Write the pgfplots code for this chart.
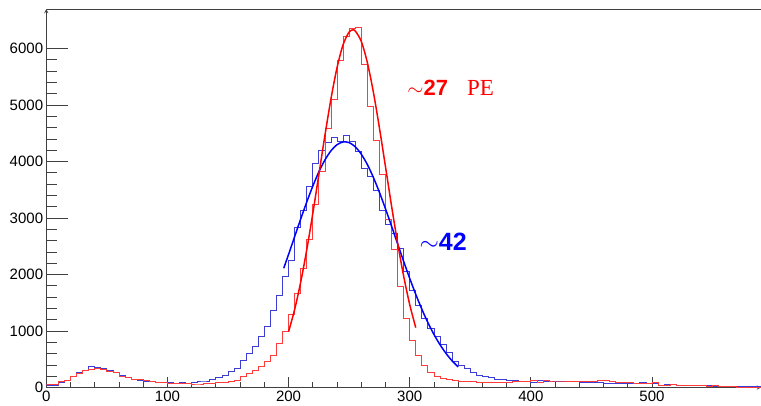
\documentclass[border=0pt]{standalone}
\usepackage{pgfplots}
\pgfplotsset{compat=1.18}
\usepackage{pgfplotstable}
\usepackage{fontspec}
\setmainfont{Liberation Sans}
\newfontfamily\serifpe{Liberation Serif}

\definecolor{hblue}{RGB}{60,60,215}
\definecolor{hred}{RGB}{255,60,60}
\definecolor{fblue}{RGB}{0,0,255}
\definecolor{fred}{RGB}{255,0,0}

\pgfplotstableread{
x b r
0 30 60
5 35 60
10 90 100
15 130 130
20 200 200
25 260 250
30 310 300
35 370 320
40 360 330
45 330 320
50 300 290
55 270 260
60 210 200
65 170 170
70 140 150
75 120 135
80 110 120
85 100 105
90 95 95
95 90 90
100 85 80
105 80 80
110 90 75
115 75 70
120 85 62
125 115 62
130 115 74
135 145 74
140 174 91
145 221 91
150 280 103
155 339 133
160 487 192
165 605 251
170 723 310
175 900 369
180 1077 457
185 1372 575
190 1637 782
195 1962 988
200 2257 1300
205 2829 1667
210 3142 2110
215 3554 2623
220 3968 3248
225 4204 3820
230 4333 4588
235 4428 5101
240 4351 5797
245 4469 6222
250 4351 6360
255 4174 6375
260 3880 5726
265 3731 4983
270 3483 4369
275 3142 3779
280 2894 2977
285 2729 2446
290 2464 1784
295 2050 1225
300 1726 841
305 1460 560
310 1225 400
315 1048 265
320 900 205
325 760 165
330 620 145
335 470 130
340 400 115
345 330 105
350 270 100
355 220 95
360 190 90
365 170 90
370 150 85
375 140 85
380 125 95
385 120 100
390 110 105
395 100 100
400 95 120
405 120 90
410 115 130
415 100 115
420 100 115
425 110 115
430 105 110
435 100 105
440 95 105
445 95 100
450 95 115
455 90 125
460 80 130
465 75 105
470 75 90
475 75 85
480 80 85
485 80 80
490 85 75
495 80 80
500 75 85
505 45 44
510 55 45
515 50 50
520 45 40
525 45 44
530 40 44
535 35 40
540 30 30
545 30 27
550 27 30
555 27 27
560 20 20
565 15 15
570 15 5
575 15 5
580 15 5
585 15 5
590 15 5
}\hist

\begin{document}
\begin{tikzpicture}
\pgfplotsset{common/.style={
  at={(0pt,0pt)}, anchor=south west, scale only axis,
  width=714.7pt, height=378.5pt,
  xmin=0, xmax=590, ymin=0, ymax=6700,
  axis line style={-, black!75, line width=0.9pt},
  tick style={black!75, line width=0.8pt},
  /pgf/number format/assume math mode=true,
  /pgf/number format/set thousands separator={},
  scaled ticks=false,
  ticklabel style={font=\fontsize{15}{15}\selectfont, inner sep=0pt}}}

\begin{axis}[common, axis x line=none, axis y line=left,
  tick align=inside,
  ytick={0,1000,...,6000}, minor y tick num=4,
  major tick length=22pt, minor tick length=11pt,
  yticklabel style={xshift=-3pt}]
\end{axis}

\begin{axis}[common, axis x line=bottom, axis y line=none,
  tick align=inside,
  xtick={0,100,...,500}, minor x tick num=4,
  major tick length=11pt, minor tick length=5.5pt,
  xticklabel style={yshift=-3.5pt}]
\addplot[const plot, hblue, line width=0.8pt] table[x=x,y=b]{\hist};
\addplot[const plot, hred, line width=0.8pt] table[x=x,y=r]{\hist};
\addplot[fblue, line width=1.5pt, smooth] coordinates {
(196,2111) (200,2356) (205,2670) (210,2982) (215,3283) (220,3565) (225,3816)
(230,4027) (235,4190) (240,4298) (245,4347) (250,4335) (255,4262) (260,4131)
(265,3948) (270,3719) (275,3455) (280,3164) (285,2858) (290,2544) (295,2233)
(300,1932) (305,1649) (310,1387) (315,1150) (320,940) (325,758) (330,603)
(335,472) (340,365)};
\addplot[fred, line width=1.5pt, smooth] coordinates {
(200,988) (205,1380) (210,1864) (215,2436) (220,3081) (225,3770) (230,4461)
(235,5110) (240,5661) (245,6068) (250,6293) (253,6330) (255,6313) (260,6128)
(265,5755) (270,5229) (275,4596) (280,3909) (285,3216) (290,2560) (295,1972)
(300,1469) (305,1059)};
\draw[black!75, line width=0.9pt] (rel axis cs:0,1) -- (rel axis cs:1,1);
\node[anchor=west, inner sep=0pt, text=fred] at (axis cs:298,5300)
  {\fontsize{22}{22}\selectfont$\sim$\textbf{27}\hspace{19pt}{\serifpe\fontsize{23}{23}\selectfont PE}};
\node[anchor=west, inner sep=0pt, text=fblue] at (axis cs:308,2575)
  {\fontsize{25}{25}\selectfont$\sim$\textbf{42}};
\end{axis}
\pgfresetboundingbox
\path (-46.3pt,-17.5pt) rectangle (714.7pt,387.5pt);
\end{tikzpicture}
\end{document}
